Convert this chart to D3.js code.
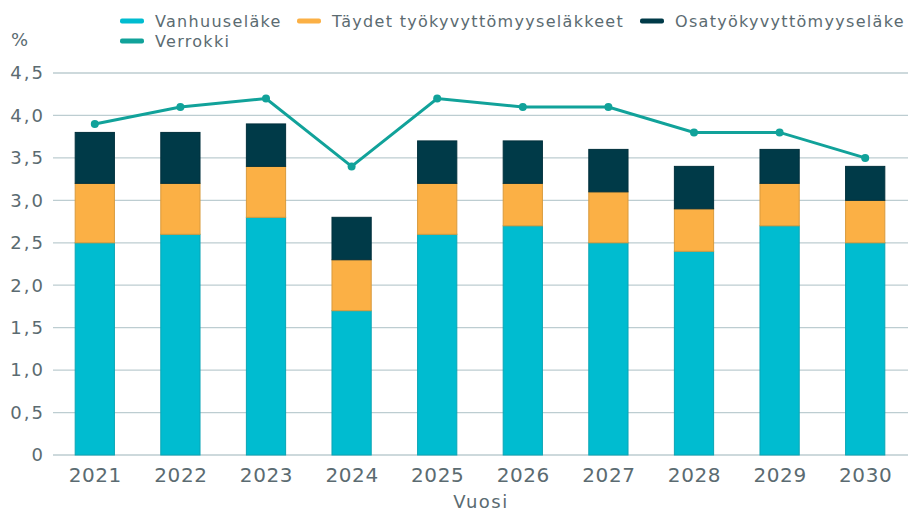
<!DOCTYPE html>
<html>
<head>
<meta charset="utf-8">
<script src="https://cdn.jsdelivr.net/npm/d3@7"></script>
<style>
  body { margin: 0; background: #fff; }
  svg { font-family: "DejaVu Sans", Verdana, sans-serif; }
</style>
</head>
<body>
<svg id="chart" width="909" height="512"></svg>
<script>
const years = ["2021", "2022", "2023", "2024", "2025", "2026", "2027", "2028", "2029", "2030"];
const vanhuus = [2.5, 2.6, 2.8, 1.7, 2.6, 2.7, 2.5, 2.4, 2.7, 2.5];
const taydet = [0.7, 0.6, 0.6, 0.6, 0.6, 0.5, 0.6, 0.5, 0.5, 0.5];
const osa = [0.6, 0.6, 0.5, 0.5, 0.5, 0.5, 0.5, 0.5, 0.4, 0.4];
const verrokki = [3.9, 4.1, 4.2, 3.4, 4.2, 4.1, 4.1, 3.8, 3.8, 3.5];
const yTicks = [0, 0.5, 1, 1.5, 2, 2.5, 3, 3.5, 4, 4.5];

const series = [
  { key: "vanhuus", name: "Vanhuuseläke", color: "#00bcd0", stroke: "#0aa5b5" },
  { key: "taydet", name: "Täydet työkyvyttömyyseläkkeet", color: "#fbb045", stroke: "#d99a3c" },
  { key: "osa", name: "Osatyökyvyttömyyseläke", color: "#003a48", stroke: "#00303c" }
];
const lineColor = "#11a29a";
const textColor = "#5b6b71";

const rows = years.map((y, i) => ({ year: y, vanhuus: vanhuus[i], taydet: taydet[i], osa: osa[i] }));
const stacked = d3.stack().keys(series.map(s => s.key))(rows);

const svg = d3.select("#chart");
const x = d3.scaleBand().domain(years).range([52, 908]).paddingInner(0.53).paddingOuter(0.265);
const y = d3.scaleLinear().domain([0, 4.5]).range([455, 73]);
const fmt = d => d3.format(".1f")(d).replace(".", ",");

// grid
svg.append("g")
  .selectAll("line")
  .data(yTicks)
  .join("line")
  .attr("x1", 53).attr("x2", 908)
  .attr("y1", d => y(d)).attr("y2", d => y(d))
  .attr("stroke", "#bdcdd1").attr("stroke-width", 1.3);

// y labels
svg.append("g")
  .selectAll("text")
  .data(yTicks)
  .join("text")
  .attr("x", 45).attr("y", d => y(d))
  .attr("dy", "0.35em")
  .attr("text-anchor", "end")
  .attr("fill", textColor)
  .style("font-size", "18px")
  .style("letter-spacing", "2px")
  .text(d => d === 0 ? "0" : fmt(d));

svg.append("text").attr("x", 11).attr("y", 46)
  .attr("fill", textColor).style("font-size", "18px").text("%");

// bars
svg.append("g")
  .selectAll("g")
  .data(stacked)
  .join("g")
  .attr("fill", (d, i) => series[i].color)
  .attr("stroke", (d, i) => series[i].stroke)
  .selectAll("rect")
  .data(d => d)
  .join("rect")
  .attr("x", d => x(d.data.year) + 0.5)
  .attr("width", x.bandwidth() - 1)
  .attr("y", d => y(d[1]))
  .attr("height", d => y(d[0]) - y(d[1]))
  .attr("stroke-width", 1);

// x labels
svg.append("g")
  .selectAll("text")
  .data(years)
  .join("text")
  .attr("x", d => x(d) + x.bandwidth() / 2 + 0.5)
  .attr("y", 482)
  .attr("text-anchor", "middle")
  .attr("fill", textColor)
  .style("font-size", "20px")
  .style("letter-spacing", "0.6px")
  .text(d => d);

svg.append("text").attr("x", 481).attr("y", 508)
  .attr("text-anchor", "middle")
  .attr("fill", textColor).style("font-size", "18px")
  .style("letter-spacing", "1.5px").text("Vuosi");

// comparison line
const line = d3.line()
  .x((d, i) => x(years[i]) + x.bandwidth() / 2)
  .y(d => y(d));

svg.append("path")
  .datum(verrokki)
  .attr("d", line)
  .attr("fill", "none")
  .attr("stroke", lineColor)
  .attr("stroke-width", 3);

svg.append("g")
  .selectAll("circle")
  .data(verrokki)
  .join("circle")
  .attr("cx", (d, i) => x(years[i]) + x.bandwidth() / 2)
  .attr("cy", d => y(d))
  .attr("r", 4)
  .attr("fill", lineColor);

// legend
const legendItems = [
  { name: series[0].name, color: series[0].color, x: 120, y: 21 },
  { name: series[1].name, color: series[1].color, x: 297, y: 21 },
  { name: series[2].name, color: series[2].color, x: 640, y: 21 },
  { name: "Verrokki", color: lineColor, x: 120, y: 41 }
];
const lg = svg.append("g")
  .selectAll("g")
  .data(legendItems)
  .join("g")
  .attr("transform", d => `translate(${d.x},${d.y})`);
lg.append("rect").attr("x", 0).attr("y", -2.5).attr("width", 24).attr("height", 5)
  .attr("rx", 2).attr("fill", d => d.color);
lg.append("text").attr("x", 35).attr("dy", "0.35em")
  .attr("fill", textColor).style("font-size", "16px")
  .style("letter-spacing", "1.3px")
  .text(d => d.name);
</script>
</body>
</html>
